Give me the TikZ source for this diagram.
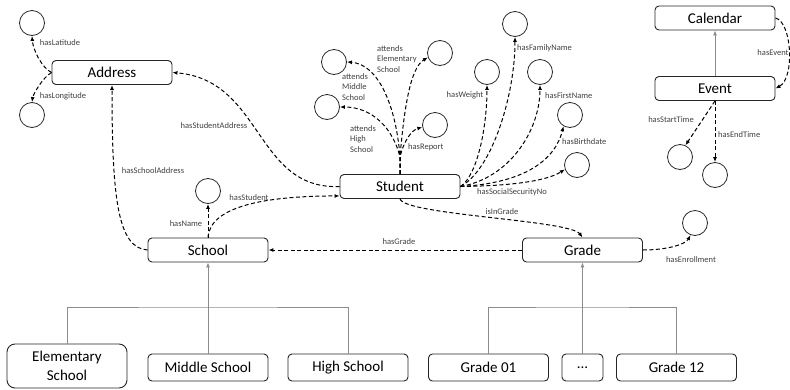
\documentclass[tikz,border=0pt]{standalone}
\usepackage{fontspec}
\setmainfont{Carlito}
\usetikzlibrary{arrows.meta}
\begin{document}
\begin{tikzpicture}[x=1pt,y=1pt,
  box/.style={draw=black!85, line width=0.9pt, rounded corners=4pt, minimum width=120pt, minimum height=24pt, inner sep=0pt, font=\fontsize{15}{18}\selectfont},
  ent/.style={draw=black!85, line width=0.8pt, circle, minimum size=25pt, inner sep=0pt},
  rel/.style={dash pattern=on 4pt off 2.5pt, line width=1pt, -{Latex[length=5pt,width=4pt]}},
  lbl/.style={font=\fontsize{8.5}{10.5}\selectfont, text=black!75, inner sep=0pt},
  tree/.style={draw=black!45, line width=0.8pt},
  treearrow/.style={tree, -{Latex[length=5pt,width=4pt]}},
]
\useasboundingbox (0,0) rectangle (790,-389);

% boxes
\node[box] (addr) at (112,-72.5) {Address};
\node[box] (stu) at (400,-186.5) {Student};
\node[box] (cal) at (715,-18) {Calendar};
\node[box] (ev) at (715,-88.5) {Event};
\node[box] (sch) at (208,-250) {School};
\node[box] (gr) at (582.5,-250) {Grade};
\node[box, minimum height=27pt] (ms) at (208,-367.5) {Middle School};
\node[box, minimum height=27pt] (hs) at (348,-367.5) {High School};
\node[box, minimum height=27pt] (g01) at (488.5,-367.5) {Grade 01};
\node[box, minimum width=41pt, minimum height=27pt] (gdots) at (582.5,-367.5) {...};
\node[box, minimum height=27pt] (g12) at (676.5,-367.5) {Grade 12};
\node[box, minimum height=44pt, rounded corners=8pt, align=center, font=\fontsize{15}{19}\selectfont] (es) at (67,-366) {Elementary\\School};

% circles
\node[ent] (lat) at (32,-23) {};
\node[ent] (lon) at (32,-115) {};
\node[ent] (cae) at (440,-53) {};
\node[ent] (cam) at (334,-62) {};
\node[ent] (cah) at (327,-107) {};
\node[ent] (crep) at (435,-125) {};
\node[ent] (cfam) at (515,-24) {};
\node[ent] (cw) at (487,-72) {};
\node[ent] (cfn) at (540,-72) {};
\node[ent] (cbd) at (570,-115) {};
\node[ent] (cssn) at (577,-165) {};
\node[ent] (cnm) at (208,-191) {};
\node[ent] (cenr) at (695,-223) {};
\node[ent] (cst) at (680,-157) {};
\node[ent] (cet) at (715,-175) {};

% address relations
\draw[rel] (addr.west) .. controls (42,-68) and (33,-50) .. (lat.south);
\draw[rel] (addr.west) .. controls (42,-78) and (33,-95) .. (lon.north);
\draw[rel] (stu.west) .. controls (255,-190) and (263,-80) .. (addr.east);
\draw[rel] (sch.west) .. controls (118,-248) and (112,-200) .. (addr.south);

% student top fan
\draw[rel] (stu.north) -- ++(0,17) .. controls (396,-105) and (378,-64) .. (cam.east);
\draw[rel] (stu.north) -- ++(0,17) .. controls (393,-128) and (372,-107) .. (cah.east);
\draw[rel] (stu.north) -- ++(0,17) .. controls (404,-110) and (410,-68) .. (cae.200);
\draw[rel] (stu.north) -- ++(0,17) .. controls (404,-140) and (412,-130) .. (crep.190);

% student right fan
\draw[rel] (stu.east) .. controls (478,-175) and (487,-125) .. (cw.south);
\draw[rel] (stu.east) .. controls (492,-170) and (515,-95) .. (cfam.south);
\draw[rel] (stu.east) .. controls (510,-178) and (540,-130) .. (cfn.south);
\draw[rel] (stu.east) .. controls (525,-183) and (555,-160) .. (cbd.240);
\draw[rel] (stu.east) .. controls (505,-186) and (545,-182) .. (cssn.200);

% school / grade
\draw[rel] (sch.north) .. controls (210,-205) and (270,-196) .. ([yshift=3pt]stu.south west);
\draw[rel] (sch.north) -- (cnm.south);
\draw[rel] (gr.west) -- (sch.east);
\draw[rel] (stu.south) .. controls (405,-215) and (570,-220) .. (gr.north);
\draw[rel] (gr.east) .. controls (665,-250) and (685,-245) .. (cenr.250);

% calendar
\draw[treearrow] (ev.north) -- (cal.south);
\draw[rel] (cal.east) .. controls (792,-22) and (795,-78) .. (ev.east);
\draw[rel] (ev.south) -- (cst.65);
\draw[rel] (ev.south) -- (cet.north);

% trees
\coordinate (sj) at (208,-307);
\coordinate (gj) at (582.5,-307);
\draw[treearrow] (ms.north) -- (sch.south);
\draw[tree] (es.north) |- (sj) -| (hs.north);
\draw[treearrow] (gdots.north) -- (gr.south);
\draw[tree] (g01.north) |- (gj) -| (g12.north);

% labels
\node[lbl] (l1) at (60,-43) {hasLatitude};
\node[lbl] (l2) at (63,-96) {hasLongitude};
\node[lbl] (l3) at (214,-126) {hasStudentAddress};
\node[lbl] (l4) at (153,-171) {hasSchoolAddress};
\node[lbl] (l5) at (186,-224) {hasName};
\node[lbl] (l6) at (249,-198) {hasStudent};
\node[lbl] (l7) at (399,-242) {hasGrade};
\node[lbl] (l8) at (502,-212) {isInGrade};
\node[lbl] (l9) at (691,-260) {hasEnrollment};
\node[lbl, anchor=north west, align=left] (l10) at (377,-45) {attends\\Elementary\\School};
\node[lbl, anchor=north west, align=left] (l11) at (342,-73) {attends\\Middle\\School};
\node[lbl, anchor=north west, align=left] (l12) at (350,-125) {attends\\High\\School};
\node[lbl, anchor=west] (l13) at (408,-147) {hasReport};
\node[lbl] (l14) at (465,-95) {hasWeight};
\node[lbl, anchor=west] (l15) at (517,-48) {hasFamilyName};
\node[lbl, anchor=west] (l16) at (545,-96) {hasFirstName};
\node[lbl, anchor=west] (l17) at (562,-142) {hasBirthdate};
\node[lbl, anchor=west] (l18) at (477,-192) {hasSocialSecurityNo};
\node[lbl] (l19) at (773,-53) {hasEvent};
\node[lbl] (l20) at (671,-120) {hasStartTime};
\node[lbl, anchor=west] (l21) at (718,-135) {hasEndTime};
\end{tikzpicture}
\end{document}
